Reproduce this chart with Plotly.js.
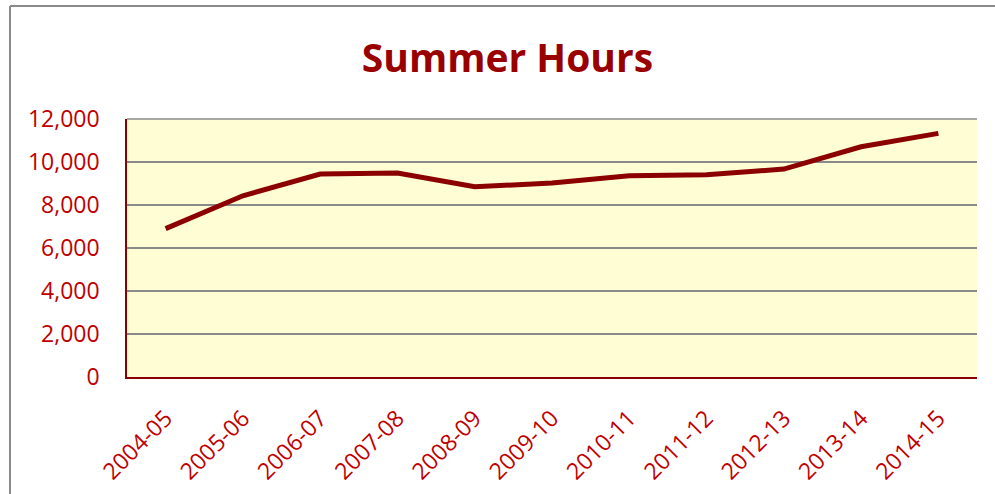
<!DOCTYPE html>
<html>
<head>
<meta charset="utf-8">
<script src="https://cdn.plot.ly/plotly-3.0.1.min.js"></script>
<style>
html,body{margin:0;padding:0;background:#fff;}
#chart{width:995px;height:494px;}
</style>
</head>
<body>
<div id="chart"></div>
<script>
const seasons = ["2004-05","2005-06","2006-07","2007-08","2008-09","2009-10","2010-11","2011-12","2012-13","2013-14","2014-15"];
const hours = [6900, 8430, 9440, 9490, 8850, 9020, 9360, 9410, 9670, 10710, 11330];
const yTicks = [0, 2000, 4000, 6000, 8000, 10000, 12000];
const chartTitle = "Summer Hours";

const red = "#C00000";
const dark = "#8B0000";

const trace = {
  x: seasons,
  y: hours,
  type: "scatter",
  mode: "lines",
  line: {color: dark, width: 5, shape: "linear"},
  hoverinfo: "x+y"
};

const plotL = 127, plotR = 18, plotT = 119, plotB = 117;
const pw = 995 - plotL - plotR, ph = 494 - plotT - plotB;

const layout = {
  width: 995, height: 494,
  margin: {l: plotL, r: plotR, t: plotT, b: plotB, pad: 0},
  paper_bgcolor: "#ffffff",
  plot_bgcolor: "#FFFDD3",
  showlegend: false,
  font: {family: "Open Sans, Noto Sans, sans-serif", color: red},
  title: {
    text: "<b>" + chartTitle + "</b>",
    font: {family: "Open Sans, Noto Sans, sans-serif", size: 39, color: "#990000"},
    x: 0.51, xanchor: "center", xref: "container",
    y: 1 - 58/494, yanchor: "middle", yref: "container"
  },
  xaxis: {
    type: "category",
    range: [-0.5, seasons.length - 0.5],
    showgrid: false,
    zeroline: false,
    showline: true, linecolor: dark, linewidth: 1.5,
    ticks: "",
    tickangle: -45,
    tickfont: {size: 23, color: red, family: "Open Sans, Noto Sans, sans-serif"},
    ticklabelstandoff: 17
  },
  yaxis: {
    range: [0, 12000],
    tickvals: yTicks,
    tickformat: ",d",
    showgrid: true, gridcolor: "#8a8a8a", gridwidth: 1.5,
    zeroline: false,
    showline: true, linecolor: dark, linewidth: 1.5,
    ticks: "",
    tickfont: {size: 23, color: red, family: "Open Sans, Noto Sans, sans-serif"},
    ticklabelstandoff: 21
  },
  shapes: [
    {type: "line", xref: "paper", yref: "paper", layer: "below",
     x0: 0, x1: 1, y0: 1, y1: 1,
     line: {color: "#8a8a8a", width: 1.5}},
    {type: "line", xref: "paper", yref: "paper",
     x0: (10 - plotL)/pw, x1: (10 - plotL)/pw,
     y0: (plotB + ph - 494 - 10)/ph, y1: (494 - plotB - 6)/ph,
     line: {color: "#8a8a8a", width: 2}},
    {type: "line", xref: "paper", yref: "paper",
     x0: (10 - plotL)/pw, x1: (1000 - plotL)/pw,
     y0: (494 - plotB - 6)/ph, y1: (494 - plotB - 6)/ph,
     line: {color: "#8a8a8a", width: 2}}
  ]
};

Plotly.newPlot("chart", [trace], layout, {displayModeBar: false});
</script>
</body>
</html>
